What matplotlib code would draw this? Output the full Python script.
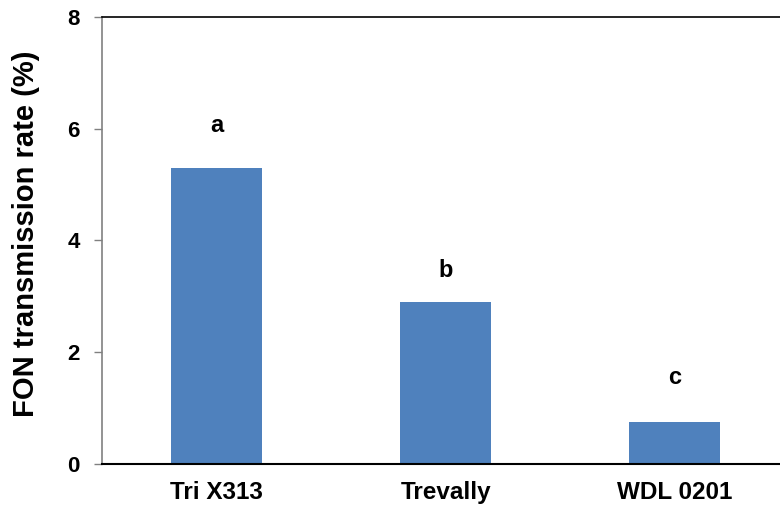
import matplotlib
matplotlib.use("Agg")
import matplotlib.pyplot as plt

plt.rcParams['font.family'] = ['Liberation Sans', 'DejaVu Sans']
plt.rcParams['font.weight'] = 'bold'

cultivars = ["Tri X313", "Trevally", "WDL 0201"]
rates = [5.3, 2.9, 0.75]
letters = ["a", "b", "c"]
letter_y = [5.94, 3.35, 1.43]

fig = plt.figure(figsize=(7.8, 5.11), dpi=100)
ax = fig.add_axes([0.131, 0.092, 0.869, 0.875])

x = range(len(cultivars))
ax.bar(x, rates, width=0.40, color="#4F81BD")
for i, (yy, s) in enumerate(zip(letter_y, letters)):
    ax.text(i, yy, s, ha="center", va="baseline", fontsize=17, fontweight="bold")

ax.set_xlim(-0.5, 2.46)
ax.set_ylim(0, 8)
ax.set_yticks([0, 2, 4, 6, 8])
ax.set_xticks(list(x))
ax.set_xticklabels(cultivars)
ax.tick_params(axis="x", length=0, labelsize=17.5, pad=12)
ax.tick_params(axis="y", length=6, width=1, color="#808080", labelsize=16, pad=10)
for lab in ax.get_xticklabels() + ax.get_yticklabels():
    lab.set_fontweight("bold")

ax.spines["right"].set_visible(False)
ax.spines["left"].set_color("#808080")
ax.spines["left"].set_linewidth(1.2)
ax.spines["bottom"].set_color("black")
ax.spines["bottom"].set_linewidth(1.5)
ax.spines["top"].set_color("black")
ax.spines["top"].set_linewidth(1.2)

ax.set_ylabel("FON transmission rate (%)", fontsize=21, fontweight="bold")
ax.yaxis.set_label_coords(-0.092, 0.515)

fig.savefig("out.png", dpi=100)
